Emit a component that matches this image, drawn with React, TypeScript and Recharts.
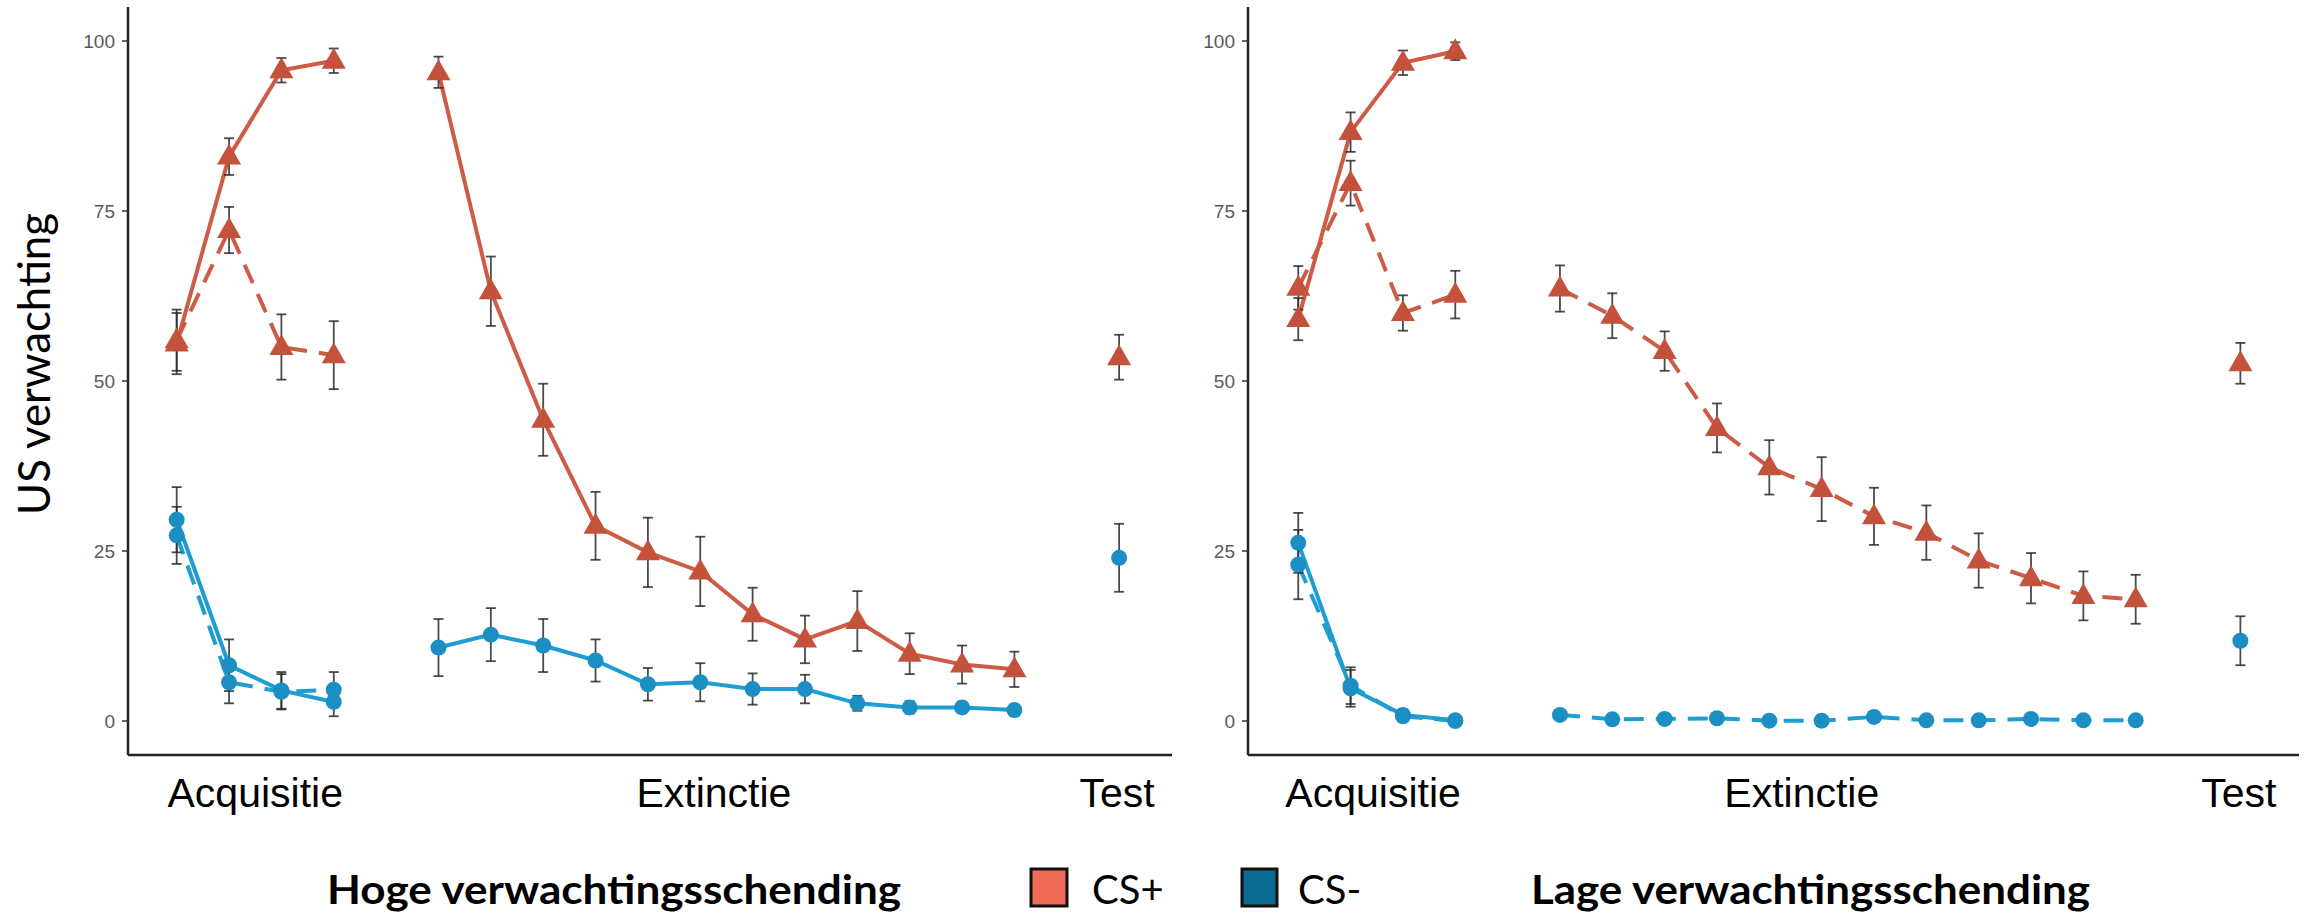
import React from "react";
import { LineChart, Line, XAxis, YAxis, ErrorBar } from "recharts";

// trial positions on the x scale (acquisitie 1-4, extinctie 1-12, test)
const acqPos = [0, 1, 2, 3];
const extPos = [5, 6, 7, 8, 9, 10, 11, 12, 13, 14, 15, 16];
const testPos = [18];

const phaseLabels = ["Acquisitie", "Extinctie", "Test"];
const hogePhasePos = [1.5, 10.26, 17.96];
const lagePhasePos = [1.43, 9.62, 17.97];
const yTicks = [0, 25, 50, 75, 100];

// Hoge verwachtingsschending
const hogePlusSolid = [55.5, 83.0, 95.7, 97.1, 95.4, 63.2, 44.3, 28.7, 24.8, 22.0, 15.7, 12.0, 14.7, 9.9, 8.3, 7.6];
const hogePlusSolidSe = [4.5, 2.7, 1.8, 1.8, 2.3, 5.1, 5.3, 5.0, 5.1, 5.1, 3.9, 3.5, 4.4, 3.0, 2.8, 2.6];
const hogePlusDashed = [56.0, 72.2, 55.0, 53.8];
const hogePlusDashedSe = [4.5, 3.4, 4.8, 5.0];
const hogeMinSolid = [29.6, 8.2, 4.5, 2.8, 10.8, 12.7, 11.1, 8.9, 5.4, 5.7, 4.7, 4.7, 2.6, 2.0, 2.0, 1.6];
const hogeMinSolidSe = [4.8, 3.8, 2.7, 2.1, 4.2, 3.9, 3.9, 3.1, 2.4, 2.8, 2.3, 2.1, 1.1, 0.9, 0.8, 0.8];
const hogeMinDashed = [27.3, 5.7, 4.3, 4.6];
const hogeMinDashedSe = [4.2, 3.1, 2.6, 2.6];
const hogePlusTest = [53.5];
const hogePlusTestSe = [3.3];
const hogeMinTest = [24.0];
const hogeMinTestSe = [5.0];

// Lage verwachtingsschending
const lagePlusSolid = [59.1, 86.6, 96.8, 98.5];
const lagePlusSolidSe = [3.1, 2.9, 1.8, 1.3];
const lagePlusDashed = [63.7, 79.1, 60.0, 62.7, 63.6, 59.6, 54.4, 43.1, 37.3, 34.1, 30.1, 27.7, 23.6, 21.0, 18.4, 17.9];
const lagePlusDashedSe = [3.2, 3.3, 2.6, 3.5, 3.4, 3.3, 2.9, 3.6, 4.0, 4.7, 4.2, 4.0, 4.0, 3.7, 3.6, 3.6];
const lageMinSolid = [26.2, 4.8, 0.9, 0.1];
const lageMinSolidSe = [4.4, 2.7, 0.8, 0.2];
const lageMinDashed = [23.0, 5.2, 0.7, 0.0, 0.9, 0.25, 0.3, 0.4, 0.05, 0.05, 0.6, 0.1, 0.1, 0.3, 0.1, 0.1];
const lageMinDashedSe = [5.1, 2.7, 0.6, 0.1, 0.7, 0.2, 0.4, 0.3, 0.1, 0.1, 0.2, 0.1, 0.1, 0.15, 0.1, 0.1];
const lagePlusTest = [52.6];
const lagePlusTestSe = [3.0];
const lageMinTest = [11.8];
const lageMinTestSe = [3.6];

const RED_LINE = "#CD5B45";
const RED_PT = "#C4513B";
const BLUE_LINE = "#1E9DD2";
const BLUE_PT = "#1B8EC3";
const AXIS = "#222";

type S = { pos: number[]; mean: number[]; se: number[] };

function buildRows(series: Record<string, S>) {
  const rows: any[] = [];
  for (let p = 0; p <= 18; p++) {
    const row: any = { x: p };
    Object.entries(series).forEach(([key, s]) => {
      const i = s.pos.indexOf(p);
      row[key] = i >= 0 ? s.mean[i] : null;
      row[key + "Err"] = i >= 0 ? s.se[i] : null;
    });
    rows.push(row);
  }
  return rows;
}

const hogeRows = buildRows({
  plusSolid: { pos: [...acqPos, ...extPos], mean: hogePlusSolid, se: hogePlusSolidSe },
  plusDashed: { pos: acqPos, mean: hogePlusDashed, se: hogePlusDashedSe },
  minSolid: { pos: [...acqPos, ...extPos], mean: hogeMinSolid, se: hogeMinSolidSe },
  minDashed: { pos: acqPos, mean: hogeMinDashed, se: hogeMinDashedSe },
  plusTest: { pos: testPos, mean: hogePlusTest, se: hogePlusTestSe },
  minTest: { pos: testPos, mean: hogeMinTest, se: hogeMinTestSe },
});

const lageRows = buildRows({
  plusSolid: { pos: acqPos, mean: lagePlusSolid, se: lagePlusSolidSe },
  plusDashed: { pos: [...acqPos, ...extPos], mean: lagePlusDashed, se: lagePlusDashedSe },
  minSolid: { pos: acqPos, mean: lageMinSolid, se: lageMinSolidSe },
  minDashed: { pos: [...acqPos, ...extPos], mean: lageMinDashed, se: lageMinDashedSe },
  plusTest: { pos: testPos, mean: lagePlusTest, se: lagePlusTestSe },
  minTest: { pos: testPos, mean: lageMinTest, se: lageMinTestSe },
});

const triangleDot = (p: any) => {
  if (p.cx == null || p.cy == null || p.value == null) return <g key={p.key ?? p.index} />;
  const { cx, cy } = p;
  return (
    <path
      key={p.key ?? p.index}
      d={`M${cx},${cy - 13} L${cx + 12},${cy + 8} L${cx - 12},${cy + 8} Z`}
      fill={RED_PT}
    />
  );
};

const circleDot = (p: any) => {
  if (p.cx == null || p.cy == null || p.value == null) return <g key={p.key ?? p.index} />;
  return <circle key={p.key ?? p.index} cx={p.cx} cy={p.cy} r={8} fill={BLUE_PT} />;
};

const seriesDefs = [
  { key: "minSolid", color: BLUE_LINE, dash: undefined, dot: circleDot },
  { key: "minDashed", color: BLUE_LINE, dash: "20 12", dot: circleDot },
  { key: "plusSolid", color: RED_LINE, dash: undefined, dot: triangleDot },
  { key: "plusDashed", color: RED_LINE, dash: "20 12", dot: triangleDot },
  { key: "plusTest", color: "none", dash: undefined, dot: triangleDot },
  { key: "minTest", color: "none", dash: undefined, dot: circleDot },
];

const PhaseTick = (props: any) => {
  const { x, y, payload, positions } = props;
  const i = positions.indexOf(payload.value);
  return (
    <text x={x} y={y + 44} textAnchor="middle" fontSize={41} fontFamily="Liberation Sans, Arial, sans-serif" fill="#000">
      {phaseLabels[i]}
    </text>
  );
};

const Panel = ({ rows, left, width, margin, domain, positions }: any) => (
  <div style={{ position: "absolute", left, top: 0 }}>
    <LineChart width={width} height={830} data={rows} margin={margin}>
      <XAxis
        dataKey="x"
        type="number"
        domain={domain}
        allowDataOverflow
        ticks={positions}
        interval={0}
        tickLine={false}
        axisLine={{ stroke: AXIS, strokeWidth: 2.5 }}
        height={60}
        tick={(p: any) => <PhaseTick {...p} positions={positions} />}
      />
      <YAxis
        type="number"
        domain={[-5, 105]}
        allowDataOverflow
        ticks={yTicks}
        interval={0}
        width={60}
        tickSize={6}
        tickMargin={7}
        tick={{ fontSize: 19, fill: "#5a5a5a", fontFamily: "Liberation Sans, Arial, sans-serif" }}
        axisLine={{ stroke: AXIS, strokeWidth: 2.5 }}
        tickLine={{ stroke: "#333", strokeWidth: 1.5 }}
      />
      {seriesDefs.map((s) => (
        <Line
          key={s.key}
          dataKey={s.key}
          type="linear"
          stroke={s.color}
          strokeWidth={s.color === "none" ? 0 : 4}
          strokeDasharray={s.dash}
          dot={s.dot}
          activeDot={false}
          isAnimationActive={false}
        />
      ))}
      {seriesDefs.map((s) => (
        <Line
          key={s.key + "-err"}
          dataKey={s.key}
          stroke="none"
          strokeWidth={0}
          dot={false}
          activeDot={false}
          isAnimationActive={false}
        >
          <ErrorBar dataKey={s.key + "Err"} direction="y" width={5} stroke="#2b2b2b" strokeWidth={1.8} strokeOpacity={0.85} />
        </Line>
      ))}
    </LineChart>
  </div>
);

export default function App() {
  const font = "Lato, 'Open Sans', sans-serif";
  return (
    <div style={{ position: "absolute", left: 0, top: 0, width: 2308, height: 914, background: "#fff", overflow: "hidden" }}>
      <Panel
        rows={hogeRows}
        left={0}
        width={1180}
        margin={{ top: 7, right: 8, bottom: 15, left: 68 }}
        domain={[-0.93, 19.01]}
        positions={hogePhasePos}
      />
      <Panel
        rows={lageRows}
        left={1180}
        width={1128}
        margin={{ top: 7, right: 9, bottom: 15, left: 8 }}
        domain={[-0.96, 19.12]}
        positions={lagePhasePos}
      />
      <svg width={2308} height={914} style={{ position: "absolute", left: 0, top: 0, pointerEvents: "none" }}>
        <text
          x={50}
          y={364}
          transform="rotate(-90 50 364)"
          textAnchor="middle"
          fontFamily={font}
          fontSize={44}
          textLength={302}
          lengthAdjust="spacingAndGlyphs"
          fill="#000"
        >
          US verwachting
        </text>
        <text x={327} y={904} fontFamily={font} fontWeight={700} fontSize={40} textLength={574} lengthAdjust="spacingAndGlyphs" fill="#000">
          Hoge verwachtingsschending
        </text>
        <rect x={1031} y={869} width={36} height={37} fill="#EE6B55" stroke="#111" strokeWidth={3} />
        <text x={1092} y={904} fontFamily={font} fontSize={40} fill="#000">
          CS+
        </text>
        <rect x={1242} y={869} width={35} height={37} fill="#0D6A93" stroke="#111" strokeWidth={3} />
        <text x={1298} y={904} fontFamily={font} fontSize={40} fill="#000">
          CS-
        </text>
        <text x={1531} y={904} fontFamily={font} fontWeight={700} fontSize={40} textLength={559} lengthAdjust="spacingAndGlyphs" fill="#000">
          Lage verwachtingsschending
        </text>
      </svg>
    </div>
  );
}
